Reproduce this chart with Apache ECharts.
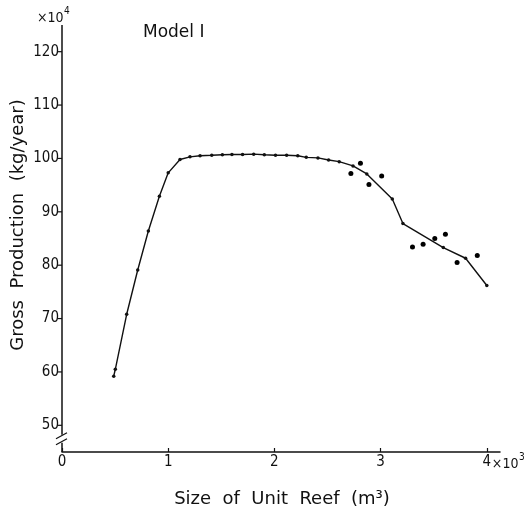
<!DOCTYPE html>
<html>
<head>
<meta charset="utf-8">
<script src="https://cdn.jsdelivr.net/npm/echarts@6/dist/echarts.min.js"></script>
<style>
  html, body { margin: 0; padding: 0; background: #fff; }
  #chart { width: 527px; height: 513px; }
</style>
</head>
<body>
<div id="chart"></div>
<script>
// Model I: gross production vs. size of unit reef
// x in units of 10^3 m^3, y in units of 10^4 kg/year
const curveX = [0.487, 0.502, 0.609, 0.713, 0.813, 0.917, 1.0, 1.111, 1.205, 1.30, 1.41, 1.51, 1.60, 1.70, 1.805, 1.905, 2.01, 2.115, 2.22, 2.30, 2.41, 2.51, 2.61, 2.74, 2.87, 3.11, 3.21, 3.59, 3.80, 4.0];
const curveY = [59.2, 60.5, 70.8, 79.1, 86.4, 92.9, 97.3, 99.8, 100.3, 100.5, 100.6, 100.7, 100.75, 100.75, 100.8, 100.7, 100.6, 100.6, 100.5, 100.2, 100.1, 99.7, 99.4, 98.6, 97.1, 92.4, 87.8, 83.3, 81.3, 76.2];
const scatterX = [2.72, 2.81, 2.89, 3.01, 3.30, 3.40, 3.51, 3.61, 3.72, 3.91];
const scatterY = [97.2, 99.1, 95.1, 96.7, 83.4, 83.9, 85.0, 85.8, 80.5, 81.8];
const xTicks = [0, 1, 2, 3, 4];
const yTicks = [50, 60, 70, 80, 90, 100, 110, 120];

const NUM_FONT = "'DejaVu Sans Condensed', 'DejaVu Sans', sans-serif";
const FONT = "'DejaVu Sans', sans-serif";
const chart = echarts.init(document.getElementById('chart'), null, { renderer: 'canvas' });

const zip = (xs, ys) => xs.map((x, i) => [x, ys[i]]);

// text width helper for placing superscripts
const measureCtx = document.createElement('canvas').getContext('2d');
function textWidth(text, font) {
  measureCtx.font = font;
  return measureCtx.measureText(text).width;
}

chart.setOption({
  animation: false,
  backgroundColor: '#fff',
  grid: { left: 62, top: 25, width: 438, height: 427, containLabel: false },
  xAxis: {
    type: 'value', min: 0, max: 4.124, interval: 1,
    axisLine: { lineStyle: { color: '#111', width: 1.5 } },
    axisTick: { inside: true, length: 4, lineStyle: { color: '#111', width: 1.2 } },
    axisLabel: {
      color: '#111', fontFamily: NUM_FONT, fontSize: 15, margin: 3,
      showMaxLabel: false,
      formatter: v => (xTicks.includes(v) ? String(v) : '')
    },
    splitLine: { show: false }
  },
  yAxis: {
    type: 'value', min: 45, max: 125,
    axisLine: { show: false },
    axisTick: { show: false },
    axisLabel: { show: false },
    splitLine: { show: false }
  },
  series: [
    {
      type: 'line', data: zip(curveX, curveY),
      symbol: 'circle', symbolSize: 3.5,
      lineStyle: { color: '#111', width: 1.4 },
      itemStyle: { color: '#111' }
    },
    {
      type: 'scatter', data: zip(scatterX, scatterY),
      symbol: 'circle', symbolSize: 5,
      itemStyle: { color: '#000', opacity: 1 }
    }
  ]
});

// Left axis drawn by hand so it can carry the break mark and outward ticks
function drawLeftAxis() {
  const x0 = chart.convertToPixel({ gridIndex: 0 }, [0, 45])[0];
  const yBottom = chart.convertToPixel({ gridIndex: 0 }, [0, 45])[1];
  const yTop = chart.convertToPixel({ gridIndex: 0 }, [0, 125])[1];
  const yBreak = chart.convertToPixel({ gridIndex: 0 }, [0, 47.3])[1];
  const els = [];
  const stroke = { stroke: '#111', lineWidth: 1.5 };
  els.push({ type: 'line', shape: { x1: x0, y1: yTop, x2: x0, y2: yBreak - 5 }, style: stroke });
  els.push({ type: 'line', shape: { x1: x0, y1: yBreak + 3, x2: x0, y2: yBottom }, style: stroke });
  els.push({ type: 'line', shape: { x1: x0 - 6, y1: yBreak - 1, x2: x0 + 5, y2: yBreak - 7 }, style: { stroke: '#111', lineWidth: 1.2 } });
  els.push({ type: 'line', shape: { x1: x0 - 6, y1: yBreak + 5, x2: x0 + 5, y2: yBreak - 1 }, style: { stroke: '#111', lineWidth: 1.2 } });
  yTicks.forEach(v => {
    const y = chart.convertToPixel({ gridIndex: 0 }, [0, v])[1];
    els.push({ type: 'line', shape: { x1: x0 - 4, y1: y, x2: x0, y2: y }, style: { stroke: '#111', lineWidth: 1.2 } });
    els.push({ type: 'text', x: x0 - 3, y: y, style: { text: String(v), font: '15px ' + NUM_FONT, fill: '#111', align: 'right', verticalAlign: 'middle' } });
  });
  // scale factor labels: ×10^4 on the value axis, ×10^3 after the last size tick
  const multFont = '14px ' + NUM_FONT;
  const wTop = textWidth('×10', multFont);
  els.push({ type: 'text', x: 37, y: 18, style: { text: '×10', font: multFont, fill: '#111', align: 'left', verticalAlign: 'middle' } });
  els.push({ type: 'text', x: 37 + wTop + 0.5, y: 11, style: { text: '4', font: '10px ' + NUM_FONT, fill: '#111', align: 'left', verticalAlign: 'middle' } });
  const x4 = chart.convertToPixel({ gridIndex: 0 }, [4, 45])[0];
  const wBot = textWidth('×10', multFont);
  els.push({ type: 'text', x: x4 + 5, y: yBottom + 12, style: { text: '×10', font: multFont, fill: '#111', align: 'left', verticalAlign: 'middle' } });
  els.push({ type: 'text', x: x4 + 5 + wBot + 0.5, y: yBottom + 5, style: { text: '3', font: '10px ' + NUM_FONT, fill: '#111', align: 'left', verticalAlign: 'middle' } });
  els.push({ type: 'text', x: 143, y: 33, style: { text: 'Model I', font: '17px ' + FONT, fill: '#111', align: 'left', verticalAlign: 'middle' } });
  els.push({ type: 'text', x: 18, y: 225, rotation: Math.PI / 2, style: { text: 'Gross  Production  (kg/year)', font: '18px ' + FONT, fill: '#111', align: 'center', verticalAlign: 'middle' } });
  els.push({ type: 'text', x: 282, y: 499, style: { text: 'Size  of  Unit  Reef  (m³)', font: '18px ' + FONT, fill: '#111', align: 'center', verticalAlign: 'middle' } });
  chart.setOption({ graphic: { elements: els } });
}
drawLeftAxis();
</script>
</body>
</html>
